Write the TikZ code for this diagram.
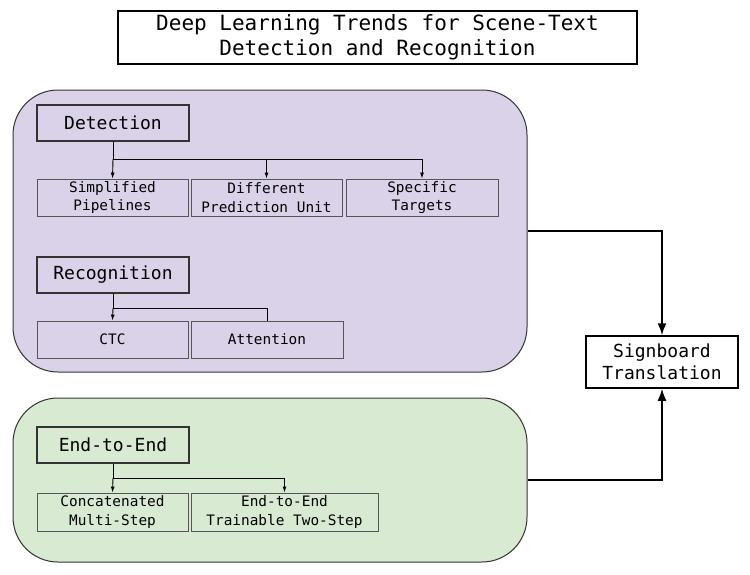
\documentclass[tikz,border=0pt]{standalone}
\usepackage{fontspec}
\setmainfont{DejaVu Sans Mono}
\usetikzlibrary{arrows.meta}
\definecolor{purp}{HTML}{D9D2E9}
\definecolor{grn}{HTML}{D9EAD3}
\definecolor{edge}{HTML}{333333}
\definecolor{thin}{HTML}{555555}
\tikzset{
  titlebox/.style={draw=black, line width=1.5pt, fill=white, inner sep=0pt, align=center, font=\fontsize{21}{25.5}\selectfont},
  region/.style={draw=edge, line width=1pt, rounded corners=45pt, inner sep=0pt},
  headbox/.style={draw=edge, line width=2.2pt, inner sep=0pt, minimum width=152pt, minimum height=36pt, font=\fontsize{18}{22}\selectfont},
  leaf/.style={draw=thin, line width=0.9pt, inner sep=0pt, minimum height=37pt, align=center, font=\fontsize{14.4}{18.3}\selectfont},
  outbox/.style={draw=black, line width=1.5pt, fill=white, inner sep=0pt, minimum width=152pt, minimum height=52pt, align=center, font=\fontsize{18}{22.5}\selectfont},
  link/.style={draw=black, line width=0.9pt},
  linkarr/.style={link, -{Latex[length=6pt,width=4pt]}},
  bigarr/.style={draw=black, line width=1.6pt, -{Latex[length=12pt,width=9pt]}}
}
\begin{document}
\begin{tikzpicture}[x=1pt,y=-1pt]
\useasboundingbox (0,0) rectangle (750,574);
\fill[white] (0,0) rectangle (750,574);

\node[titlebox, minimum width=519pt, minimum height=53pt] (title) at (377.5,37.5) {Deep Learning Trends for Scene-Text\\Detection and Recognition};

\node[region, fill=purp, minimum width=514pt, minimum height=282pt] (pbox) at (270,231) {};
\node[region, fill=grn, minimum width=514pt, minimum height=164pt] (gbox) at (270,480) {};

% Detection
\node[headbox] (det) at (113,123) {Detection};
\node[leaf, minimum width=151pt] (d1) at (112.5,197.5) {Simplified\\Pipelines};
\node[leaf, minimum width=151pt] (d2) at (266.5,197.5) {Different\\Prediction Unit};
\node[leaf, minimum width=152pt] (d3) at (422,197.5) {Specific\\Targets};
\coordinate (dj) at (113,159);
\draw[link] (det.south) -- (dj) -- (dj -| d3.north);
\draw[linkarr] (dj) -- (d1.north);
\draw[linkarr] (dj -| d2.north) -- (d2.north);
\draw[linkarr] (dj -| d3.north) -- (d3.north);

% Recognition
\node[headbox] (rec) at (113,275) {Recognition};
\node[leaf, minimum width=151pt] (r1) at (112.5,339.5) {CTC};
\node[leaf, minimum width=152pt] (r2) at (267,339.5) {Attention};
\coordinate (rj) at (113,308);
\draw[link] (rec.south) -- (rj) -- (rj -| r2.north) -- (r2.north);
\draw[linkarr] (rj) -- (r1.north);

% End-to-End
\node[headbox] (e2e) at (113,445) {End-to-End};
\node[leaf, minimum width=151pt, minimum height=38pt] (e1) at (112.5,512) {Concatenated\\Multi-Step};
\node[leaf, minimum width=187pt, minimum height=38pt] (e2) at (284.5,512) {End-to-End\\Trainable Two-Step};
\coordinate (ej) at (113,478);
\draw[link] (e2e.south) -- (ej) -- (ej -| e2.north);
\draw[linkarr] (ej) -- (e1.north);
\draw[linkarr] (ej -| e2.north) -- (e2.north);

% Output
\node[outbox] (sign) at (662,362) {Signboard\\Translation};
\draw[bigarr] (pbox.east) -| (sign.north);
\draw[bigarr] (gbox.east) -| (sign.south);
\end{tikzpicture}
\end{document}
